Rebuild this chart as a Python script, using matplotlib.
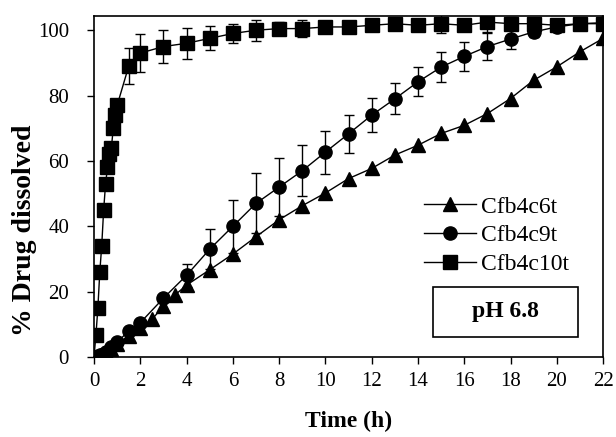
import matplotlib
matplotlib.use("Agg")
import matplotlib.pyplot as plt
from matplotlib.patches import Rectangle
from matplotlib.lines import Line2D

plt.rcParams['font.family'] = ['Liberation Serif', 'DejaVu Serif']

# Cfb4c6t (triangles)
t_6t = [0, 0.25, 0.5, 0.75, 1, 1.5, 2, 2.5, 3, 3.5, 4, 5, 6, 7, 8, 9, 10, 11, 12, 13, 14, 15, 16, 17, 18, 19, 20, 21, 22]
y_6t = [0, 0.5, 1.5, 2.5, 4, 6.5, 9, 11.5, 15.5, 19, 22, 26.7, 31.5, 36.8, 42, 46.3, 50.2, 54.6, 57.7, 61.8, 64.8, 68.4, 70.9, 74.5, 79.1, 84.7, 88.8, 93.4, 97.5]

# Cfb4c9t (circles)
t_9t = [0, 0.25, 0.5, 0.75, 1, 1.5, 2, 3, 4, 5, 6, 7, 8, 9, 10, 11, 12, 13, 14, 15, 16, 17, 18, 19, 20, 21, 22]
y_9t = [0, 0.5, 1.5, 3, 4.5, 8, 10.5, 18, 25, 33, 40, 47, 52, 57, 62.7, 68.3, 74, 79, 84.2, 88.7, 92, 95, 97.3, 99.5, 101, 102, 102.3]
e_9t = [0, 0.3, 0.4, 0.5, 0.5, 0.6, 0.8, 1.0, 3.6, 6.1, 8.2, 9.2, 8.9, 7.8, 6.6, 5.9, 5.2, 4.7, 4.4, 4.6, 4.4, 4.0, 3.0, 1.5, 1.0, 0.5, 0.5]

# Cfb4c10t (squares)
t_10t = [0, 0.083, 0.167, 0.25, 0.333, 0.417, 0.5, 0.583, 0.667, 0.75, 0.833, 0.917, 1, 1.5, 2, 3, 4, 5, 6, 7, 8, 9, 10, 11, 12, 13, 14, 15, 16, 17, 18, 19, 20, 21, 22]
y_10t = [0, 6.7, 15, 26, 34, 45, 53, 58, 62, 64, 70, 74, 77, 89, 93, 95, 96, 97.5, 99, 100, 100.5, 100.5, 101, 101, 101.5, 102, 101.5, 102, 101.5, 102.5, 102, 102, 101.5, 102, 102]
e_10t = [0, 1, 1, 1.5, 1.5, 1.5, 1.5, 1.5, 1.5, 1.5, 1.5, 1.5, 1.5, 5.6, 5.7, 5, 4.8, 3.7, 3, 3.2, 2, 2.5, 1.5, 1.5, 1.5, 1.5, 1.5, 3, 1.5, 3, 2, 1.5, 1.5, 1.5, 1.5]

labels = ['Cfb4c6t', 'Cfb4c9t', 'Cfb4c10t']
markers = ['^', 'o', 's']
x_ticks = list(range(0, 23, 2))
y_ticks = list(range(0, 101, 20))

fig = plt.figure(figsize=(6.16, 4.37), dpi=100)
ax = fig.add_axes([0.1526, 0.183, 0.8264, 0.78])

lw = 1.0
ms = 9.5
ax.errorbar(t_10t, y_10t, yerr=e_10t, color='black', marker='s', ms=ms, lw=lw,
            capsize=3.5, elinewidth=1, capthick=1, zorder=3)
ax.errorbar(t_9t, y_9t, yerr=e_9t, color='black', marker='o', ms=ms, lw=lw,
            capsize=3.5, elinewidth=1, capthick=1, zorder=3)
ax.plot(t_6t, y_6t, color='black', marker='^', ms=ms, lw=lw, zorder=3)

ax.set_xlim(0, 22)
ax.set_ylim(0, 104.3)
ax.set_xticks(x_ticks)
ax.set_yticks(y_ticks)
ax.tick_params(direction='out', length=5, width=1, labelsize=15, top=False, right=False)
ax.tick_params(axis='y', pad=13)
ax.tick_params(axis='x', pad=6)
for s in ax.spines.values():
    s.set_linewidth(1.2)

ax.set_xlabel('Time (h)', fontsize=17, fontweight='bold', labelpad=14)
ax.set_ylabel('% Drug dissolved', fontsize=20, fontweight='bold')
ax.yaxis.set_label_coords(-0.112, 0.372)

handles = [Line2D([], [], color='black', marker=m, ms=ms, lw=lw) for m in markers]
leg = ax.legend(handles, labels, loc='upper left',
                bbox_to_anchor=(0.63, 0.50), frameon=False, fontsize=17,
                handlelength=2.2, handletextpad=0.2, labelspacing=0.3, borderaxespad=0)

ax.add_patch(Rectangle((0.665, 0.06), 0.285, 0.145, transform=ax.transAxes,
                       fill=False, edgecolor='black', lw=1.2, zorder=5))
ax.text(0.8075, 0.1325, 'pH 6.8', transform=ax.transAxes, ha='center', va='center',
        fontsize=17, fontweight='bold', zorder=6)

fig.savefig('out.png', dpi=100)
